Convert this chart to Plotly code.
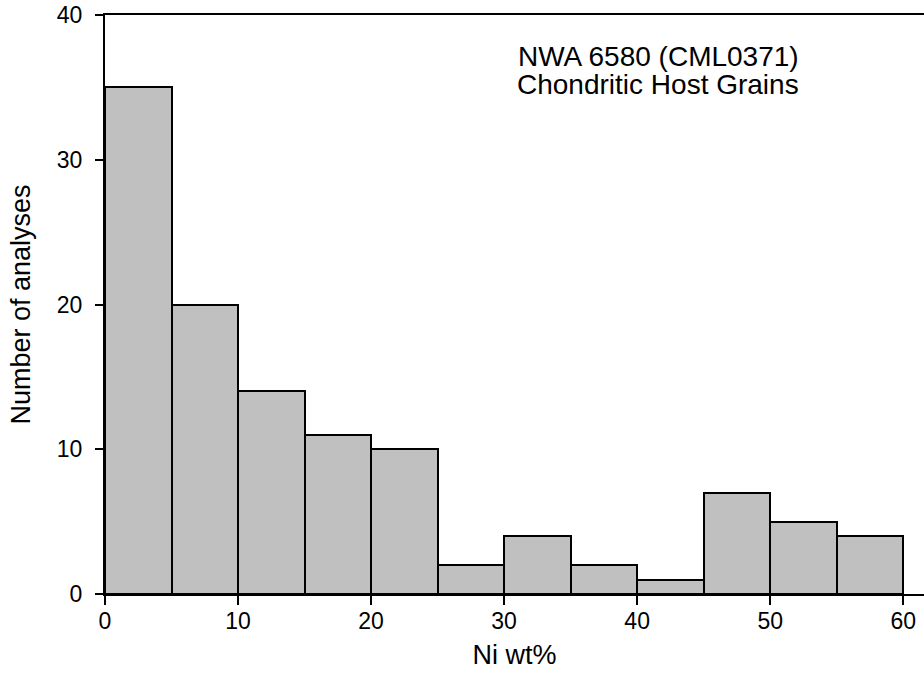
import plotly.graph_objects as go

bin_starts = [0, 5, 10, 15, 20, 25, 30, 35, 40, 45, 50, 55]
bin_width = 5
counts = [35, 20, 14, 11, 10, 2, 4, 2, 1, 7, 5, 4]
x_ticks = [0, 10, 20, 30, 40, 50, 60]
y_ticks = [0, 10, 20, 30, 40]
note_lines = ["NWA 6580 (CML0371)", "Chondritic Host Grains"]

centers = [s + bin_width / 2 for s in bin_starts]

W, H = 924, 690
L, T, B = 105, 15, 96
plot_w = W - L
plot_h = H - T - B


def px_x(p):
    return (p - L) / plot_w


def px_y(p):
    return 1 - (p - T) / plot_h


fig = go.Figure()
fig.add_trace(go.Bar(
    x=centers, y=counts, width=[bin_width] * len(counts),
    marker=dict(color="#C0C0C0", line=dict(color="black", width=2)),
    hoverinfo="x+y",
))

font_family = "Arial, Liberation Sans, sans-serif"
fig.update_layout(
    width=W, height=H,
    margin=dict(l=L, r=0, t=T, b=B),
    plot_bgcolor="white", paper_bgcolor="white",
    showlegend=False,
    bargap=0,
    font=dict(family=font_family, color="black"),
    xaxis=dict(
        range=[0, 61.56], tickvals=x_ticks, ticks="outside", ticklen=9,
        tickwidth=2, tickcolor="black", showline=True, linecolor="black",
        linewidth=2, mirror=True, showgrid=False, zeroline=False,
        tickfont=dict(size=23), ticklabelstandoff=-4,
        title=dict(text="Ni wt%", font=dict(size=27), standoff=13),
    ),
    yaxis=dict(
        range=[0, 40], tickvals=y_ticks, ticks="outside", ticklen=8,
        tickwidth=2, tickcolor="black", showline=True, linecolor="black",
        linewidth=2, mirror=False, showgrid=False, zeroline=False,
        tickfont=dict(size=23), ticklabelstandoff=8,
        title=dict(text="Number of analyses", font=dict(size=27), standoff=18),
    ),
    annotations=[
        dict(text=note_lines[0], x=px_x(658), y=px_y(39),
             xref="paper", yref="paper", showarrow=False,
             xanchor="center", yanchor="top", font=dict(size=28)),
        dict(text=note_lines[1], x=px_x(658), y=px_y(67),
             xref="paper", yref="paper", showarrow=False,
             xanchor="center", yanchor="top", font=dict(size=28)),
    ],
)

fig.write_html("out.html", config={"displayModeBar": False},
               post_script="document.body.style.margin='0';")
